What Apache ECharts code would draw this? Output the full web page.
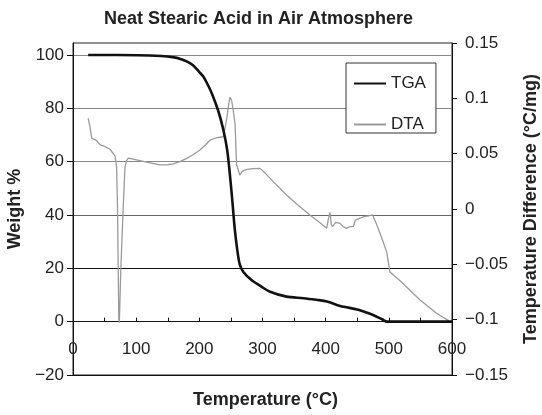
<!DOCTYPE html>
<html>
<head>
<meta charset="utf-8">
<script src="https://cdn.jsdelivr.net/npm/echarts@6/dist/echarts.min.js"></script>
<style>
  html, body { margin: 0; padding: 0; background: #fff; }
  #chart { width: 542px; height: 415px; }
</style>
</head>
<body>
<div id="chart"></div>
<script>
// Thermogravimetric trace: [temperature °C, weight %]
const tgaData = [
  [24, 100], [70, 100], [140, 99.6], [160, 99.1], [170, 98.5], [180, 97.6],
  [190, 96.2], [200, 93.6], [206, 92], [212, 89.5], [220, 85.5], [230, 79],
  [238, 72], [244, 64.5], [248, 56], [252, 46], [256, 35], [260, 27],
  [264, 21.5], [270, 18.5], [283, 15.5], [296, 13.5], [312, 11.2], [338, 9.4],
  [365, 8.8], [385, 8.2], [402, 7.6], [423, 5.9], [450, 4.6], [460, 3.8],
  [475, 2.5], [490, 0.8], [497, 0], [600, 0]
];

// Differential thermal trace: [temperature °C, °C/mg]
const dtaData = [
  [24, 0.082], [27, 0.074], [29.6, 0.064], [37, 0.062], [43, 0.058], [48, 0.057],
  [58.6, 0.054], [66.5, 0.048], [69, 0.038], [70.5, 0.0], [71.5, -0.05],
  [72.5, -0.1], [73.3, -0.103], [74.5, -0.08], [75.5, -0.058], [77, -0.035],
  [78.7, -0.01], [80.5, 0.015], [82.3, 0.038], [85, 0.044], [87.6, 0.046],
  [95, 0.045], [106, 0.0437], [120, 0.042], [137.7, 0.0398], [150, 0.040],
  [158.8, 0.0407], [170, 0.043], [180, 0.0458], [190, 0.049], [201, 0.0533],
  [210, 0.058], [217, 0.0623], [227.5, 0.0644], [238, 0.0653], [243, 0.08],
  [246, 0.093], [248.5, 0.101], [251, 0.0985], [253.7, 0.089], [256.5, 0.077],
  [259, 0.04], [264, 0.0307], [268, 0.034], [275, 0.0358], [285, 0.0365],
  [296, 0.0367], [305, 0.032], [317, 0.0247], [338, 0.0127], [355, 0.004],
  [375, -0.0054], [390, -0.012], [401.6, -0.0175], [404, -0.01], [406.8, -0.003],
  [409, -0.014], [411, -0.016], [416, -0.012], [422.7, -0.013], [428, -0.016],
  [433, -0.0175], [438, -0.016], [443.7, -0.016], [447, -0.01], [449, -0.0084],
  [460, -0.007], [470, -0.006], [474.4, -0.0054], [480, -0.013], [486, -0.022],
  [490, -0.028], [496.6, -0.039], [501.8, -0.057], [520, -0.066], [549, -0.082],
  [575, -0.094], [597, -0.1018], [600, -0.102]
];

const weightTicks = [-20, 0, 20, 40, 60, 80, 100];
const diffTicks = [-0.15, -0.1, -0.05, 0, 0.05, 0.1, 0.15];
const tempTicks = [0, 100, 200, 300, 400, 500, 600];

const WEIGHT_MIN = -20, WEIGHT_MAX = 104.5;
const GRID = { left: 73, right: 90, top: 43, bottom: 40 };
const CHART_H = 415;

const FONT = '"Liberation Sans", Arial, Helvetica, sans-serif';
const minusSign = v => String(v).replace('-', '\u2212');

// The temperature axis sits on the zero weight line: shift it up from the grid bottom
const plotH = CHART_H - GRID.top - GRID.bottom;
const zeroShift = -plotH * (0 - WEIGHT_MIN) / (WEIGHT_MAX - WEIGHT_MIN);

const chart = echarts.init(document.getElementById('chart'), null, { renderer: 'canvas' });

chart.setOption({
  animation: false,
  backgroundColor: '#fff',
  textStyle: { fontFamily: FONT },
  title: {
    text: 'Neat Stearic Acid in Air Atmosphere',
    left: 104, top: 10, padding: 0,
    textStyle: { fontFamily: FONT, fontSize: 18, fontWeight: 'bold', color: '#222' }
  },
  grid: Object.assign({
    show: true, borderColor: '#222', borderWidth: 1, backgroundColor: 'transparent',
    containLabel: false, outerBoundsMode: 'none'
  }, GRID),
  legend: {
    orient: 'vertical',
    left: 346, top: 63,
    padding: [12, 10, 0, 7],
    itemGap: 24,
    itemWidth: 32, itemHeight: 14,
    backgroundColor: '#fff',
    borderColor: '#333', borderWidth: 1,
    itemStyle: { color: 'transparent', borderColor: 'transparent', borderWidth: 0, opacity: 0 },
    textStyle: { fontFamily: FONT, fontSize: 17, color: '#222', lineHeight: 14 },
    data: ['TGA', 'DTA']
  },
  xAxis: {
    type: 'value',
    min: 0, max: 600, interval: 100,
    position: 'bottom',
    offset: zeroShift,
    axisLine: { onZero: false, lineStyle: { color: '#111', width: 1 } },
    axisTick: { show: true, inside: true, length: 4, lineStyle: { color: '#111' } },
    minorTick: { show: true, splitNumber: 2, length: 4, lineStyle: { color: '#111' } },
    axisLabel: {
      customValues: tempTicks,
      margin: 19, fontSize: 17, color: '#222', fontFamily: FONT
    },
    splitLine: { show: false }
  },
  yAxis: [
    {
      type: 'value',
      min: WEIGHT_MIN, max: WEIGHT_MAX, interval: 20,
      name: 'Weight %',
      nameLocation: 'middle', nameGap: 44, nameRotate: 90,
      nameTextStyle: { fontFamily: FONT, fontSize: 18, fontWeight: 'bold', color: '#222' },
      axisLine: { show: true, lineStyle: { color: '#111' } },
      axisTick: { show: true, customValues: weightTicks, length: 6, lineStyle: { color: '#111' } },
      axisLabel: {
        customValues: weightTicks,
        margin: 9, fontSize: 17, color: '#222', fontFamily: FONT,
        formatter: v => minusSign(v)
      },
      splitLine: {
        show: true,
        lineStyle: { color: ['#111', '#111', '#111', '#666', '#888', '#888', '#888', '#111'], width: 1 }
      }
    },
    {
      type: 'value',
      min: -0.15, max: 0.15, interval: 0.05,
      position: 'right',
      name: 'Temperature Difference (\u00B0C/mg)',
      nameLocation: 'middle', nameGap: 70, nameRotate: 90,
      nameTextStyle: { fontFamily: FONT, fontSize: 18, fontWeight: 'bold', color: '#222' },
      axisLine: { show: true, lineStyle: { color: '#111' } },
      axisTick: { show: true, customValues: diffTicks, length: 5, lineStyle: { color: '#111' } },
      axisLabel: {
        customValues: diffTicks,
        margin: 13, fontSize: 17, color: '#222', fontFamily: FONT,
        formatter: v => minusSign(parseFloat(v.toFixed(2)))
      },
      splitLine: { show: false }
    }
  ],
  graphic: [
    {
      type: 'text',
      left: 193, top: 391,
      style: {
        text: 'Temperature (\u00B0C)',
        font: 'bold 18px ' + FONT,
        fill: '#222'
      }
    }
  ],
  series: [
    {
      name: 'DTA',
      type: 'line',
      yAxisIndex: 1,
      data: dtaData,
      symbol: 'none',
      lineStyle: { color: '#9a9a9a', width: 1.3 },
      itemStyle: { color: '#9a9a9a' },
      z: 2
    },
    {
      name: 'TGA',
      type: 'line',
      yAxisIndex: 0,
      data: tgaData,
      symbol: 'none',
      smooth: 0.3,
      lineStyle: { color: '#111', width: 2.6 },
      itemStyle: { color: '#111' },
      z: 3
    }
  ]
});
</script>
</body>
</html>
